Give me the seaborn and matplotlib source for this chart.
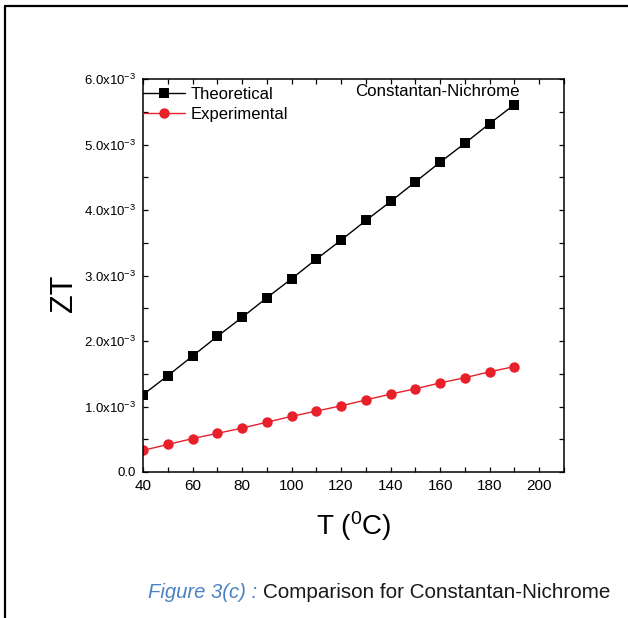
import matplotlib
matplotlib.use("Agg")
import matplotlib.pyplot as plt
import seaborn as sns
import pandas as pd
from matplotlib.ticker import MultipleLocator, FuncFormatter
from matplotlib.lines import Line2D
from matplotlib import font_manager as fm

# ---- data ----
temperature = [40, 50, 60, 70, 80, 90, 100, 110, 120, 130, 140, 150, 160, 170, 180, 190]
zt_theoretical = [1.18, 1.47, 1.77, 2.07, 2.36, 2.66, 2.95, 3.25, 3.54, 3.84, 4.13, 4.43, 4.73, 5.02, 5.32, 5.61]
zt_experimental = [0.33, 0.42, 0.51, 0.59, 0.67, 0.76, 0.85, 0.93, 1.01, 1.10, 1.19, 1.27, 1.36, 1.44, 1.53, 1.61]
series_names = ["Theoretical", "Experimental"]
scale = 1e-3

sns.set_theme(style="white")
names = {f.name for f in fm.fontManager.ttflist}
narrow = "Liberation Sans Narrow" if "Liberation Sans Narrow" in names else "Liberation Sans"
plt.rcParams["font.family"] = [narrow, "DejaVu Sans"]
plt.rcParams["mathtext.fontset"] = "custom"
plt.rcParams["mathtext.rm"] = narrow
plt.rcParams["mathtext.it"] = narrow
plt.rcParams["mathtext.default"] = "regular"

df = pd.DataFrame({
    "T": temperature * 2,
    "ZT": [v * scale for v in zt_theoretical] + [v * scale for v in zt_experimental],
    "Series": [series_names[0]] * len(temperature) + [series_names[1]] * len(temperature),
})

fig = plt.figure(figsize=(6.28, 6.18), dpi=100)
fig.patch.set_facecolor("white")
ax = fig.add_axes([143 / 628, 1 - 472 / 618, (564 - 143) / 628, (472 - 79) / 618])

red = "#e8202a"
sns.lineplot(data=df[df.Series == series_names[0]], x="T", y="ZT", color="black",
             marker="s", markersize=6.5, markeredgewidth=0, linewidth=1.0,
             label=series_names[0], ax=ax)
sns.lineplot(data=df[df.Series == series_names[1]], x="T", y="ZT", color=red,
             marker="o", markersize=7.5, markeredgewidth=0, linewidth=1.0,
             label=series_names[1], ax=ax)

ax.set_xlim(40, 210)
ax.set_ylim(0, 6e-3)
ax.xaxis.set_major_locator(MultipleLocator(20))
ax.xaxis.set_minor_locator(MultipleLocator(10))
ax.yaxis.set_major_locator(MultipleLocator(1e-3))
ax.yaxis.set_minor_locator(MultipleLocator(0.5e-3))

def yfmt(v, pos):
    k = round(v / 1e-3, 6)
    if abs(k) < 1e-9:
        return "0.0"
    return f"{k:.1f}x10$^{{-3}}$"

ax.yaxis.set_major_formatter(FuncFormatter(yfmt))
ax.xaxis.set_major_formatter(FuncFormatter(lambda v, p: f"{int(round(v))}"))

for s in ax.spines.values():
    s.set_visible(True)
    s.set_color("black")
    s.set_linewidth(1.1)

ax.tick_params(which="both", direction="in", top=True, right=True, bottom=True, left=True,
               length=3.5, width=0.9, color="black")
ax.tick_params(axis="x", which="major", labelsize=11, pad=5, labelcolor="black")
ax.tick_params(axis="y", which="major", labelsize=9.5, pad=5, labelcolor="black")

ax.set_xlabel("T ($^{0}$C)", fontsize=20, color="black")
ax.set_ylabel("ZT", fontsize=22, color="black")
ax.xaxis.set_label_coords(0.5, -0.095)
ax.yaxis.set_label_coords(-0.152, 0.455)

leg = ax.legend(loc="upper left", bbox_to_anchor=(0.0, 0.98), frameon=False,
                fontsize=12, handlelength=2.5, handletextpad=0.35, labelspacing=0.3,
                borderaxespad=0, borderpad=0)
for t in leg.get_texts():
    t.set_color("black")

ax.text(0.504, 0.967, "Constantan-Nichrome", transform=ax.transAxes,
        fontsize=12.2, va="center", ha="left", color="black")

# caption
cap_font = ["Liberation Sans", "DejaVu Sans"]
fig.text(148 / 628, 1 - 598 / 618, "Figure 3(c) :", fontsize=14.6, style="italic",
         color="#4a80c4", family=cap_font, fontweight="normal", va="baseline", ha="left")
fig.text(263 / 628, 1 - 598 / 618, "Comparison for Constantan-Nichrome", fontsize=14.9,
         color="#1a1a1a", family=cap_font, fontweight="normal", va="baseline", ha="left")

# frame lines (top and left)
fig.add_artist(Line2D([5 / 628, 5 / 628], [0, 1 - 6 / 618], transform=fig.transFigure,
                      color="black", linewidth=1.6))
fig.add_artist(Line2D([5 / 628, 1], [1 - 6 / 618, 1 - 6 / 618], transform=fig.transFigure,
                      color="black", linewidth=1.6))

fig.savefig("out.png", dpi=100, facecolor="white")
